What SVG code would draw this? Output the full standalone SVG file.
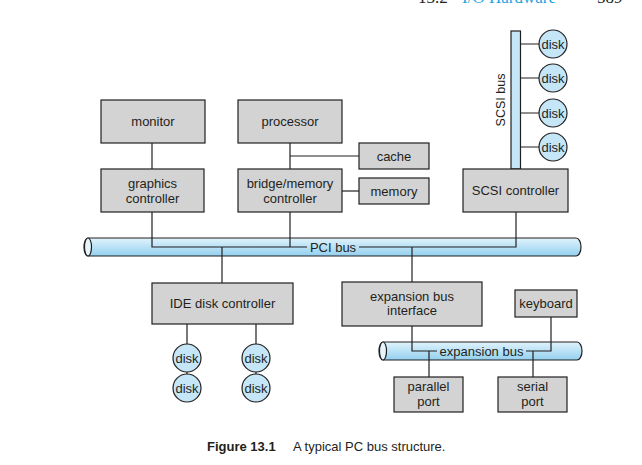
<svg xmlns="http://www.w3.org/2000/svg" width="642" height="465" viewBox="0 0 642 465">
<defs>
<linearGradient id="busg" x1="0" y1="0" x2="0" y2="1">
<stop offset="0" stop-color="#e0f3fc"/>
<stop offset="1" stop-color="#93d0ef"/>
</linearGradient>
<style>
.box{fill:#d3d3d4;stroke:#231f20;stroke-width:1.2}
.disk{fill:#c4e6f7;stroke:#231f20;stroke-width:1.2}
.bus{fill:url(#busg);stroke:#231f20;stroke-width:1.2}
.ln{fill:none;stroke:#231f20;stroke-width:1.2}
text{font-family:"Liberation Sans",Arial,sans-serif;font-size:13px;fill:#231f20;text-anchor:middle}
.hdr{font-family:"Liberation Serif","Times New Roman",serif;font-size:17px;text-anchor:start}
</style>
</defs>
<rect width="642" height="465" fill="#ffffff"/>
<g id="header">
<text class="hdr" x="418" y="3">13.2</text>
<text class="hdr" x="462" y="3" style="fill:#1fa3e0">I/O Hardware</text>
<text class="hdr" x="597" y="3">589</text>
</g>
<g id="pci-bus">
<path class="bus" d="M88,238 H576 A5,9 0 0 1 576,256 H88 A4,9 0 0 1 88,238 Z"/>
<ellipse class="bus" cx="88" cy="247" rx="3.5" ry="9" style="fill:#e6f5fc"/>
</g>
<g id="expansion-bus">
<path class="bus" d="M383,342 H577 A5,9 0 0 1 577,360 H383 A4,9 0 0 1 383,342 Z"/>
<ellipse class="bus" cx="383" cy="351" rx="3.5" ry="9" style="fill:#e6f5fc"/>
</g>
<g id="scsi-bus">
<rect x="511" y="31" width="9.5" height="138" fill="#c4e6f7" stroke="#231f20" stroke-width="1.2"/>
<text x="0" y="0" transform="translate(502,100) rotate(-90)" dominant-baseline="middle" style="font-size:12.5px">SCSI bus</text>
</g>
<g id="connectors">
<path class="ln" d="M152,143 V169"/>
<path class="ln" d="M290,143 V169 M290,156 H359"/>
<path class="ln" d="M342,191 H359"/>
<path class="ln" d="M152,212 V247 H307 M359,247 H516 V212"/>
<path class="ln" d="M290,212 V247"/>
<path class="ln" d="M222,247 V283"/>
<path class="ln" d="M412,247 V282"/>
<path class="ln" d="M187,324 V344 M187,372 V374 M256,324 V344 M256,372 V374"/>
<path class="ln" d="M412,326 V351 H437 M526,351 H551 V317"/>
<path class="ln" d="M429,351 V377 M533,351 V377"/>
<path class="ln" d="M520.5,44 H539 M520.5,78 H539 M520.5,113 H539 M520.5,147 H539"/>
<text x="333" y="251.5">PCI bus</text>
<text x="481.5" y="355.5">expansion bus</text>
</g>
<g id="monitor"><rect class="box" x="101" y="100" width="104" height="43"/><text x="153" y="126">monitor</text></g>
<g id="processor"><rect class="box" x="238" y="100" width="104" height="43"/><text x="290" y="126">processor</text></g>
<g id="cache"><rect class="box" x="359" y="143" width="70" height="26"/><text x="394" y="160.5">cache</text></g>
<g id="graphics-controller"><rect class="box" x="101" y="169" width="103" height="43"/><text x="152.5" y="187.5">graphics</text><text x="152.5" y="202.5">controller</text></g>
<g id="bridge-memory-controller"><rect class="box" x="238" y="169" width="104" height="43"/><text x="290" y="187.5">bridge/memory</text><text x="290" y="202.5">controller</text></g>
<g id="memory"><rect class="box" x="359" y="178" width="70" height="26"/><text x="394" y="195.5">memory</text></g>
<g id="scsi-controller"><rect class="box" x="463" y="169" width="105" height="43"/><text x="515.5" y="195">SCSI controller</text></g>
<g id="scsi-disk-1"><circle class="disk" cx="553" cy="44" r="14"/><text x="553" y="48.5">disk</text></g>
<g id="scsi-disk-2"><circle class="disk" cx="553" cy="78" r="14"/><text x="553" y="82.5">disk</text></g>
<g id="scsi-disk-3"><circle class="disk" cx="553" cy="113" r="14"/><text x="553" y="117.5">disk</text></g>
<g id="scsi-disk-4"><circle class="disk" cx="553" cy="147" r="14"/><text x="553" y="151.5">disk</text></g>
<g id="ide-disk-controller"><rect class="box" x="152" y="283" width="141" height="41"/><text x="222.5" y="308">IDE disk controller</text></g>
<g id="ide-disk-1"><circle class="disk" cx="187" cy="358" r="14"/><text x="187" y="362.5">disk</text></g>
<g id="ide-disk-2"><circle class="disk" cx="187" cy="388" r="14"/><text x="187" y="392.5">disk</text></g>
<g id="ide-disk-3"><circle class="disk" cx="256" cy="358" r="14"/><text x="256" y="362.5">disk</text></g>
<g id="ide-disk-4"><circle class="disk" cx="256" cy="388" r="14"/><text x="256" y="392.5">disk</text></g>
<g id="expansion-bus-interface"><rect class="box" x="342" y="282" width="140" height="44"/><text x="412" y="301">expansion bus</text><text x="412" y="315">interface</text></g>
<g id="keyboard"><rect class="box" x="515" y="290" width="62" height="27"/><text x="546" y="307.5">keyboard</text></g>
<g id="parallel-port"><rect class="box" x="394" y="377" width="69" height="35"/><text x="428.5" y="391">parallel</text><text x="428.5" y="405.5">port</text></g>
<g id="serial-port"><rect class="box" x="498" y="377" width="69" height="35"/><text x="532.5" y="391">serial</text><text x="532.5" y="405.5">port</text></g>
<g id="caption">
<text x="207" y="451" style="text-anchor:start;font-weight:bold">Figure 13.1</text>
<text x="293" y="451" style="text-anchor:start">A typical PC bus structure.</text>
</g>
</svg>
